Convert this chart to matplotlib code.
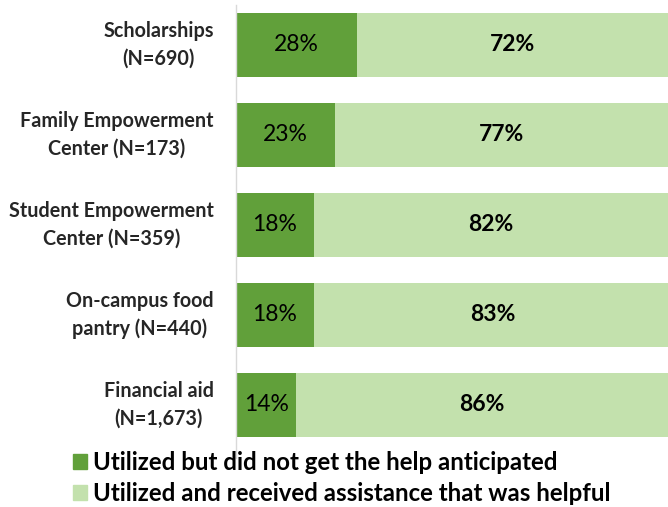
import matplotlib.pyplot as plt
from matplotlib.patches import Patch

# Survey results per support service
services = ['Scholarships\n(N=690)',
            'Family Empowerment\nCenter (N=173)',
            'Student Empowerment\nCenter (N=359)',
            'On-campus food\npantry (N=440)',
            'Financial aid\n(N=1,673)']
not_helped = [28, 23, 18, 18, 14]
helped = [72, 77, 82, 83, 86]

dark = '#61A03A'
light = '#C3E1AD'
plt.rcParams['font.family'] = ['Lato', 'DejaVu Sans']

fig = plt.figure(figsize=(6.68, 5.07), dpi=100)
ax = fig.add_axes([236 / 668, (507 - 458) / 507, 1 - 236 / 668, 453 / 507])

y = list(range(len(services)))
ax.barh(y, not_helped, height=0.72, color=dark)
ax.barh(y, helped, left=not_helped, height=0.72, color=light)

# Percent labels centered in each segment
for i in y:
    ax.text(not_helped[i] / 2, i, f'{not_helped[i]}%', ha='center', va='center',
            fontsize=16.5, color='black')
    ax.text(not_helped[i] + helped[i] / 2, i, f'{helped[i]}%', ha='center', va='center',
            fontsize=16.5, fontweight='bold', color='black')

ax.set_xlim(0, 100)
ax.set_ylim(4.589, -0.444)
ax.set_yticks(y)
ax.set_yticklabels(services, fontsize=14.2, fontweight='bold', color='#262626',
                   multialignment='center', linespacing=1.45)
for lbl in ax.get_yticklabels():
    lbl.set_verticalalignment('center')
ax.tick_params(axis='y', length=0, pad=16)
ax.set_xticks([])
for side in ['top', 'right', 'bottom']:
    ax.spines[side].set_visible(False)
ax.spines['left'].set_color('#D9D9D9')
ax.spines['left'].set_linewidth(1.0)

handles = [Patch(color=dark, label='Utilized but did not get the help anticipated'),
           Patch(color=light, label='Utilized and received assistance that was helpful')]
fig.legend(handles=handles, loc='upper left', bbox_to_anchor=(61 / 668, 1 - 439 / 507),
           frameon=False, handlelength=0.6, handleheight=0.6,
           handletextpad=0.25, labelspacing=0.34, borderpad=0,
           prop={'weight': 'bold', 'size': 17.3})

fig.savefig('out.png', dpi=100)
